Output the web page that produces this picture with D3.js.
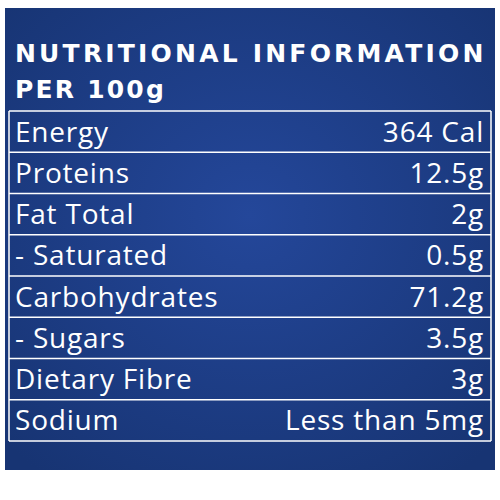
<!DOCTYPE html>
<html><head><meta charset="utf-8">
<script src="https://cdn.jsdelivr.net/npm/d3@7"></script>
<style>body{margin:0;background:#fff}</style>
</head><body>
<svg width="500" height="500"></svg>
<script>
const nutrients = ["Energy", "Proteins", "Fat Total", "- Saturated", "Carbohydrates", "- Sugars", "Dietary Fibre", "Sodium"];
const amounts = ["364 Cal", "12.5g", "2g", "0.5g", "71.2g", "3.5g", "3g", "Less than 5mg"];
const titleLines = ["NUTRITIONAL INFORMATION", "PER 100g"];

const svg = d3.select("svg");
const defs = svg.append("defs");
const grad = defs.append("radialGradient").attr("id", "bg").attr("cx", "50%").attr("cy", "45%").attr("r", "70%");
grad.append("stop").attr("offset", "0%").attr("stop-color", "#24479a");
grad.append("stop").attr("offset", "100%").attr("stop-color", "#173473");

svg.append("rect").attr("x", 5).attr("y", 8).attr("width", 490).attr("height", 462).attr("fill", "url(#bg)");

// title
svg.selectAll(".title").data(titleLines).join("text")
  .attr("class", "title")
  .attr("x", 15)
  .attr("y", (d, i) => 62 + i * 36)
  .attr("fill", "#fff")
  .attr("font-family", "DejaVu Sans")
  .attr("font-weight", "bold")
  .attr("font-size", 25)
  .attr("letter-spacing", (d, i) => i == 0 ? 3.2 : 2.2)
  .text(d => d);

const y = d3.scaleBand().domain(nutrients).range([111, 441]);
const left = 9, right = 491;

// lines
svg.selectAll(".hline").data(nutrients.concat(["end"])).join("line")
  .attr("class", "hline")
  .attr("x1", left).attr("x2", right)
  .attr("y1", (d, i) => i < nutrients.length ? y(d) : y.range()[1])
  .attr("y2", (d, i) => i < nutrients.length ? y(d) : y.range()[1])
  .attr("stroke", "#fff").attr("stroke-width", 1.5);
[left, right].forEach(x => svg.append("line")
  .attr("x1", x).attr("x2", x).attr("y1", y.range()[0]).attr("y2", y.range()[1])
  .attr("stroke", "#fff").attr("stroke-width", 1.5));

svg.selectAll(".name").data(nutrients).join("text")
  .attr("class", "name")
  .attr("x", 15)
  .attr("y", d => y(d) + y.bandwidth() / 2 + 10)
  .attr("fill", "#fff").attr("font-family", "Open Sans").attr("font-size", 28)
  .attr("letter-spacing", 0.8)
  .text(d => d);

svg.selectAll(".amt").data(amounts).join("text")
  .attr("class", "amt")
  .attr("x", 484)
  .attr("text-anchor", "end")
  .attr("y", (d, i) => y(nutrients[i]) + y.bandwidth() / 2 + 10)
  .attr("fill", "#fff").attr("font-family", "Open Sans").attr("font-size", 28)
  .attr("letter-spacing", 0.8)
  .text(d => d);
</script>
</body></html>
